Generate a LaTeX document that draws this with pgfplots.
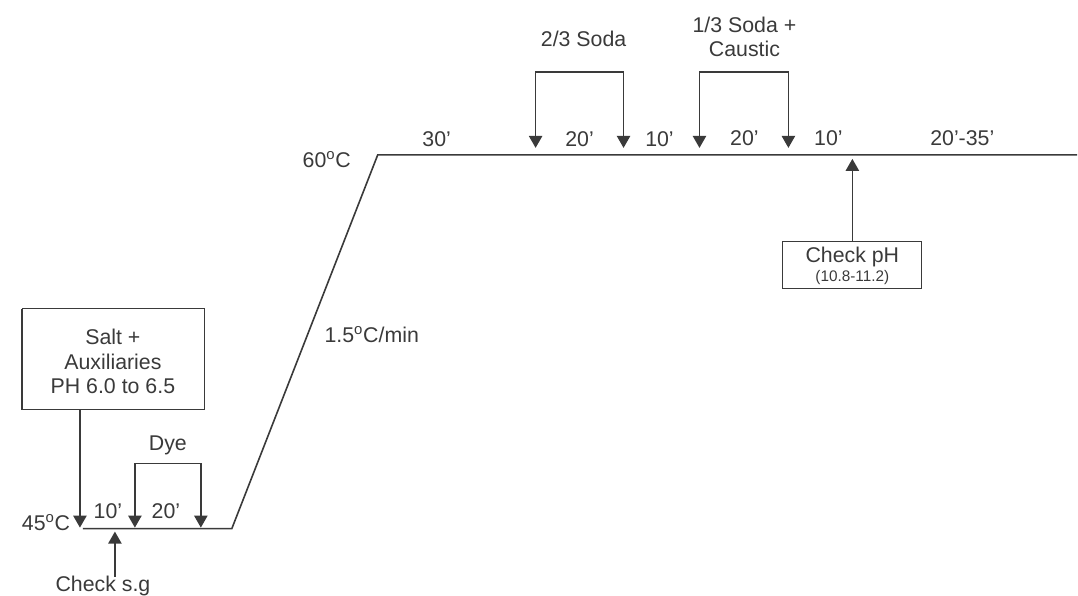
\documentclass[border=0pt]{standalone}
\usepackage{fontspec}
\setmainfont{Liberation Sans}
\usepackage{pgfplots}
\pgfplotsset{compat=1.18}
\usetikzlibrary{arrows.meta}
\definecolor{ink}{HTML}{3A3A3A}
\tikzset{
  tip/.tip={Triangle[length=9pt,width=10pt]},
  arr/.style={-tip},
  barr/.style={tip-tip},
  lbl/.style={text=ink, font=\fontsize{16}{18.4}\selectfont, align=center, inner sep=0pt},
}
\begin{document}
\begin{tikzpicture}
\begin{axis}[
  scale only axis, width=808.5pt, height=447pt,
  xmin=0, xmax=1078, ymin=0, ymax=596, y dir=reverse,
  hide axis, clip=false,
  every axis plot/.append style={ink, line width=1.1pt},
]
% invisible frame
\addplot[draw=none] coordinates {(0,0) (1078,596)};
% temperature profile
\addplot[line width=1.2pt] coordinates {(83,529) (232,529) (378,155) (1078,155)};
% salt box
\addplot[line width=0.8pt] coordinates {(22,309) (205,309) (205,410) (22,410) (22,309)};
\addplot[arr] coordinates {(80,410) (80,528)};
% dye bracket
\addplot[barr] coordinates {(135,528) (135,464) (201,464) (201,528)};
% check s.g arrow
\addplot[arr] coordinates {(115,577) (115,532)};
% 2/3 soda bracket
\addplot[barr] coordinates {(536,148) (536,72) (624,72) (624,148)};
% 1/3 soda bracket
\addplot[barr] coordinates {(700,148) (700,72) (789,72) (789,148)};
% check pH arrow & box
\addplot[arr] coordinates {(853,242) (853,159)};
\addplot[line width=0.8pt] coordinates {(783,242) (922,242) (922,289) (783,289) (783,242)};
% labels
\node[lbl] at (axis cs:113,362) {Salt +\\Auxiliaries\\PH 6.0 to 6.5};
\node[lbl] at (axis cs:46,523) {45\textsuperscript{o}C};
\node[lbl] at (axis cs:108,512) {10’};
\node[lbl] at (axis cs:166,512) {20’};
\node[lbl] at (axis cs:168,446) {Dye};
\node[lbl] at (axis cs:103,586) {Check s.g};
\node[lbl] at (axis cs:372,335) {1.5\textsuperscript{o}C/min};
\node[lbl] at (axis cs:327,160) {60\textsuperscript{o}C};
\node[lbl] at (axis cs:437,139) {30’};
\node[lbl] at (axis cs:580,139) {20’};
\node[lbl] at (axis cs:660,139) {10’};
\node[lbl] at (axis cs:584,39) {2/3 Soda};
\node[lbl] at (axis cs:745,37) {1/3 Soda +\\Caustic};
\node[lbl] at (axis cs:745,138) {20’};
\node[lbl] at (axis cs:829,138) {10’};
\node[lbl] at (axis cs:963,138) {20’-35’};
\node[lbl] at (axis cs:853,257) {Check pH};
\node[lbl, font=\fontsize{11.5}{13}\selectfont] at (axis cs:853,278) {(10.8-11.2)};
\end{axis}
\end{tikzpicture}
\end{document}
